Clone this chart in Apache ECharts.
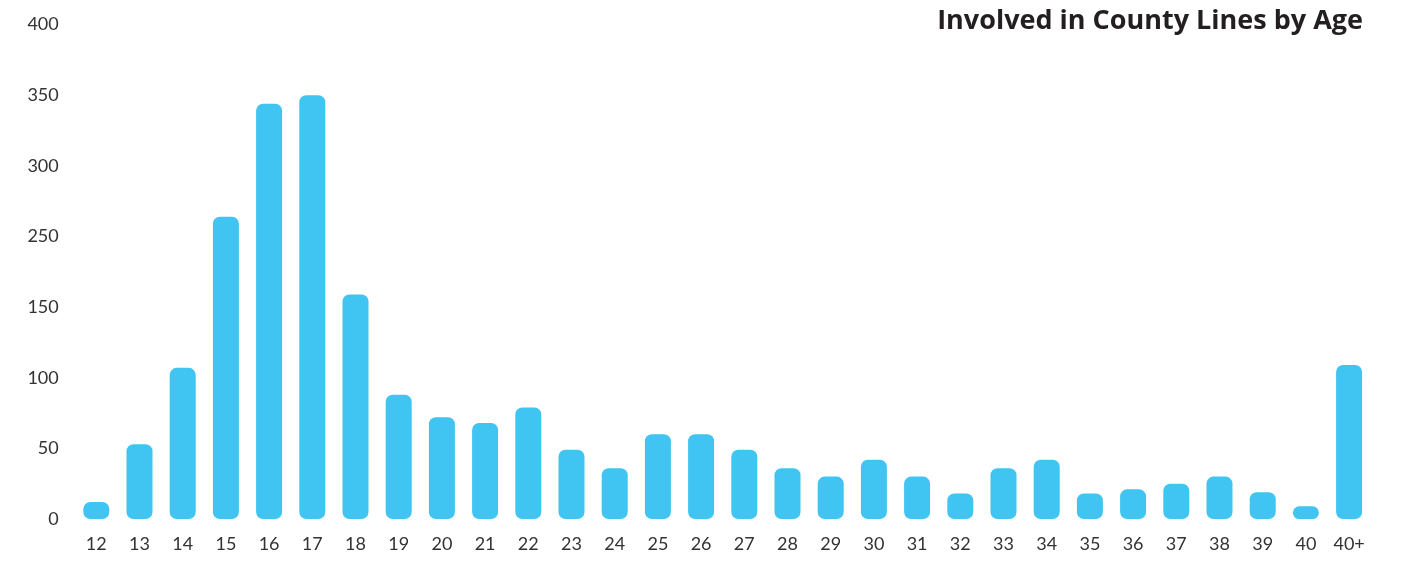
<!DOCTYPE html>
<html>
<head>
<meta charset="utf-8">
<title>Involved in County Lines by Age</title>
<script src="https://cdn.jsdelivr.net/npm/echarts@6/dist/echarts.min.js"></script>
<style>
  html, body { margin: 0; padding: 0; background: #ffffff; }
  #chart { width: 1405px; height: 574px; }
</style>
</head>
<body>
<div id="chart"></div>
<script>
// Age groups along the x axis
const ages = ['12', '13', '14', '15', '16', '17', '18', '19', '20', '21', '22', '23', '24', '25',
  '26', '27', '28', '29', '30', '31', '32', '33', '34', '35', '36', '37', '38', '39', '40', '40+'];

// Bar heights in axis units
const involved = [12, 53, 107, 214, 294, 300, 159, 88, 72, 68, 79, 49, 36, 60,
  60, 49, 36, 30, 42, 30, 18, 36, 42, 18, 21, 25, 30, 19, 9, 109];

// Text printed at each y-axis tick, bottom to top
const yTickLabels = ['0', '50', '100', '150', '250', '300', '350', '400'];

const chartTitle = 'Involved in County Lines by Age';

const chart = echarts.init(document.getElementById('chart'), null, { renderer: 'canvas' });

chart.setOption({
  backgroundColor: '#ffffff',
  animation: false,
  title: {
    text: chartTitle,
    right: 37,
    top: 3,
    textStyle: {
      fontFamily: 'Open Sans',
      fontWeight: 'bold',
      fontSize: 27,
      color: '#231f20'
    }
  },
  grid: {
    left: 74.7,
    right: 34.3,
    top: 24.6,
    bottom: 55
  },
  xAxis: {
    type: 'category',
    data: ages,
    axisLine: { show: false },
    axisTick: { show: false },
    axisLabel: {
      interval: 0,
      margin: 16,
      fontFamily: 'Lato',
      fontSize: 18,
      color: '#333333'
    }
  },
  yAxis: {
    type: 'value',
    min: 0,
    max: 350,
    interval: 50,
    axisLine: { show: false },
    axisTick: { show: false },
    splitLine: { show: false },
    axisLabel: {
      margin: 16,
      fontFamily: 'Lato',
      fontSize: 18,
      color: '#333333',
      formatter: function (v) { return yTickLabels[Math.round(v / 50)]; }
    }
  },
  series: [{
    type: 'bar',
    data: involved,
    barWidth: 26,
    itemStyle: {
      color: '#40c4f1',
      borderRadius: 7
    }
  }]
});
</script>
</body>
</html>
